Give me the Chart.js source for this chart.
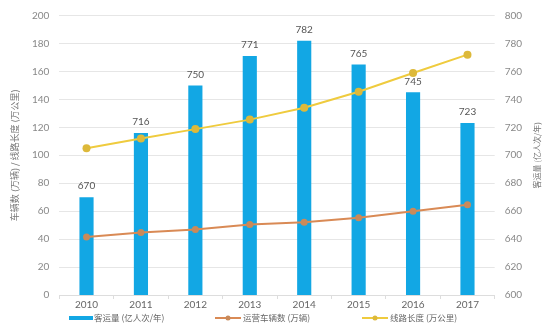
<!DOCTYPE html>
<html>
<head>
<meta charset="utf-8">
<script src="https://cdn.jsdelivr.net/npm/chart.js@4"></script>
<style>
  html, body { margin: 0; padding: 0; background: #fff; }
  #wrap { width: 546px; height: 327px; }
</style>
</head>
<body>
<div id="wrap"><canvas id="metroChart"></canvas></div>
<script>
const years = ['2010', '2011', '2012', '2013', '2014', '2015', '2016', '2017'];
const passengers = [670, 716, 750, 771, 782, 765, 745, 723];      // 客运量 (right axis)
const vehicles = [41.5, 44.7, 46.8, 50.4, 52, 55.3, 60, 64.5];     // 运营车辆数
const lineLength = [105, 112, 118.7, 125.5, 134, 145.4, 158.9, 172]; // 线路长度

const tickFont = { family: 'Lato, "Noto Sans CJK SC", sans-serif', size: 10, lineHeight: 1.1 };
const cjkFont = { family: '"Noto Sans CJK SC", sans-serif', size: 9, lineHeight: 1.1 };

// bar value labels, right axis title (bottom-to-top) and the legend row
const extras = {
  id: 'extras',
  afterDatasetsDraw(chart) {
    const ctx = chart.ctx;
    const meta = chart.getDatasetMeta(0);
    ctx.save();
    ctx.font = '10px Lato, sans-serif';
    ctx.fillStyle = '#555';
    ctx.textAlign = 'center';
    ctx.textBaseline = 'bottom';
    meta.data.forEach((bar, i) => {
      ctx.fillText(passengers[i], bar.x, bar.y - 6);
    });
    ctx.restore();
  },
  afterDraw(chart) {
    const ctx = chart.ctx;
    const area = chart.chartArea;
    ctx.save();
    ctx.translate(537, (area.top + area.bottom) / 2);
    ctx.rotate(-Math.PI / 2);
    ctx.font = '8px "Noto Sans CJK SC", sans-serif';
    ctx.fillStyle = '#777';
    ctx.textAlign = 'center';
    ctx.textBaseline = 'middle';
    ctx.fillText('客运量 (亿人次/年)', 0, 0);
    ctx.restore();

    // legend
    const starts = [69, 215, 362];
    const y = 318;
    ctx.save();
    ctx.font = '8.5px "Noto Sans CJK SC", sans-serif';
    ctx.textBaseline = 'middle';
    ctx.textAlign = 'left';
    chart.data.datasets.forEach((ds, i) => {
      const x = starts[i];
      if (ds.type === 'bar') {
        ctx.fillStyle = ds.backgroundColor;
        ctx.fillRect(x, y - 2, 24, 4);
      } else {
        ctx.strokeStyle = ds.borderColor;
        ctx.lineWidth = 2;
        ctx.beginPath();
        ctx.moveTo(x, y);
        ctx.lineTo(x + 26, y);
        ctx.stroke();
        ctx.fillStyle = ds.backgroundColor;
        ctx.beginPath();
        ctx.arc(x + 13, y, 2.5, 0, Math.PI * 2);
        ctx.fill();
      }
      ctx.fillStyle = '#666';
      ctx.fillText(ds.label, x + (ds.type === 'bar' ? 25 : 28), y);
    });
    ctx.restore();
  }
};

new Chart(document.getElementById('metroChart').getContext('2d'), {
  type: 'bar',
  data: {
    labels: years,
    datasets: [
      {
        type: 'bar',
        label: '客运量 (亿人次/年)',
        data: passengers,
        yAxisID: 'y1',
        backgroundColor: '#12A7E4',
        borderWidth: 0,
        categoryPercentage: 1,
        barPercentage: 0.26,
        order: 3
      },
      {
        type: 'line',
        label: '运营车辆数 (万辆)',
        data: vehicles,
        yAxisID: 'y',
        borderColor: '#D98A55',
        backgroundColor: '#C98A5A',
        borderWidth: 2,
        pointRadius: 3.5,
        pointBorderWidth: 0,
        tension: 0,
        order: 2
      },
      {
        type: 'line',
        label: '线路长度 (万公里)',
        data: lineLength,
        yAxisID: 'y',
        borderColor: '#EFCB3E',
        backgroundColor: '#DDB93A',
        borderWidth: 2,
        pointRadius: 4,
        pointBorderWidth: 0,
        tension: 0,
        order: 1
      }
    ]
  },
  options: {
    responsive: true,
    maintainAspectRatio: false,
    animation: false,
    layout: { padding: { top: 2, left: 8, right: 0, bottom: 17 } },
    plugins: {
      tooltip: { enabled: false },
      legend: { display: false }
    },
    scales: {
      x: {
        grid: { drawOnChartArea: false, offset: true, tickLength: 4, color: '#ddd' },
        border: { color: '#ddd' },
        ticks: { color: '#666', font: tickFont, padding: 0 }
      },
      y: {
        position: 'left',
        min: 0,
        max: 200,
        ticks: { stepSize: 20, color: '#888', font: tickFont, padding: 10 },
        grid: { color: '#e6e6e6', drawTicks: false },
        border: { display: false },
        title: { display: true, text: '车辆数 (万辆) / 线路长度 (万公里)', color: '#777', font: cjkFont, padding: 2 }
      },
      y1: {
        position: 'right',
        min: 600,
        max: 800,
        ticks: { stepSize: 20, color: '#888', font: tickFont, padding: 10 },
        grid: { drawOnChartArea: false, drawTicks: false },
        border: { display: false },
        title: { display: true, text: ' ', color: 'rgba(0,0,0,0)', font: cjkFont, padding: 2 }
      }
    }
  },
  plugins: [extras]
});
</script>
</body>
</html>
